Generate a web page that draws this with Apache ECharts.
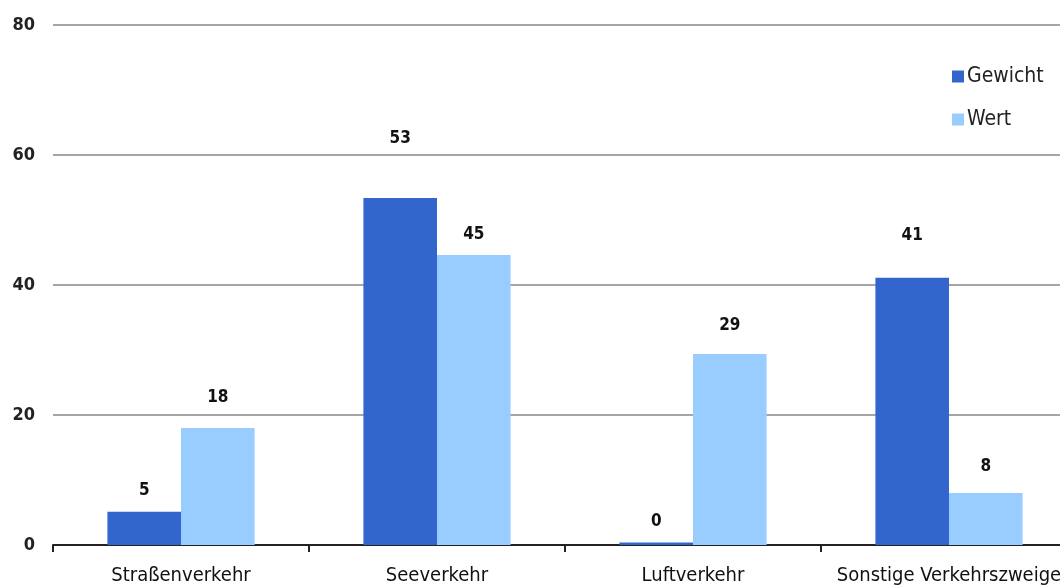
<!DOCTYPE html>
<html><head><meta charset="utf-8">
<script src="https://cdn.jsdelivr.net/npm/echarts@6/dist/echarts.min.js"></script>
<style>html,body{margin:0;padding:0;background:#fff}#c{width:1060px;height:588px}</style>
</head><body><div id="c"></div>
<script>
const categories = ['Straßenverkehr', 'Seeverkehr', 'Luftverkehr', 'Sonstige Verkehrszweige'];
const gewicht = [5.1, 53.4, 0.4, 41.1];
const wert = [18.0, 44.6, 29.4, 8.0];
const yTicks = [0, 20, 40, 60, 80];

const gewichtGap = [13, 51, 12, 34];
const wertGap = [22, 12, 20, 18];
const FONT = "'DejaVu Sans Condensed', 'DejaVu Sans', sans-serif";

function mk(vals, gaps) {
  return vals.map((v, i) => ({ value: v, label: { distance: gaps[i] } }));
}

const chart = echarts.init(document.getElementById('c'));
chart.setOption({
  animation: false,
  grid: { left: 53, width: 1024, top: 25, bottom: 43, outerBoundsMode: 'none', containLabel: false },
  legend: {
    orient: 'vertical', left: 952, top: 66, padding: 0, itemWidth: 12, itemHeight: 12, itemGap: 22, icon: 'rect',
    textStyle: { fontFamily: FONT, fontSize: 21, color: '#222', padding: [0, 0, 0, -2] },
    data: ['Gewicht', 'Wert']
  },
  xAxis: {
    type: 'category', data: categories,
    axisLine: { lineStyle: { color: '#222', width: 2 } },
    axisTick: { show: true, length: 7, lineStyle: { color: '#222', width: 2 } },
    axisLabel: { fontFamily: FONT, fontSize: 20, color: '#111', margin: 21, interval: 0, hideOverlap: false }
  },
  yAxis: {
    type: 'value', min: yTicks[0], max: yTicks[yTicks.length - 1], interval: 20,
    axisLine: { show: false }, axisTick: { show: false },
    splitLine: { lineStyle: { color: '#a6a6a6', width: 2 } },
    axisLabel: { fontFamily: FONT, fontSize: 18, fontWeight: 'bold', color: '#222', margin: 18 }
  },
  series: [
    {
      name: 'Gewicht', type: 'bar', data: mk(gewicht, gewichtGap), barGap: '0%', barCategoryGap: '42.5%',
      itemStyle: { color: '#3366CC' },
      label: { show: true, position: 'top', fontFamily: FONT, fontSize: 17, fontWeight: 'bold', color: '#111',
        formatter: p => Math.round(p.value) }
    },
    {
      name: 'Wert', type: 'bar', data: mk(wert, wertGap),
      itemStyle: { color: '#99CCFF' },
      label: { show: true, position: 'top', fontFamily: FONT, fontSize: 17, fontWeight: 'bold', color: '#111',
        formatter: p => Math.round(p.value) }
    }
  ]
});
</script></body></html>
